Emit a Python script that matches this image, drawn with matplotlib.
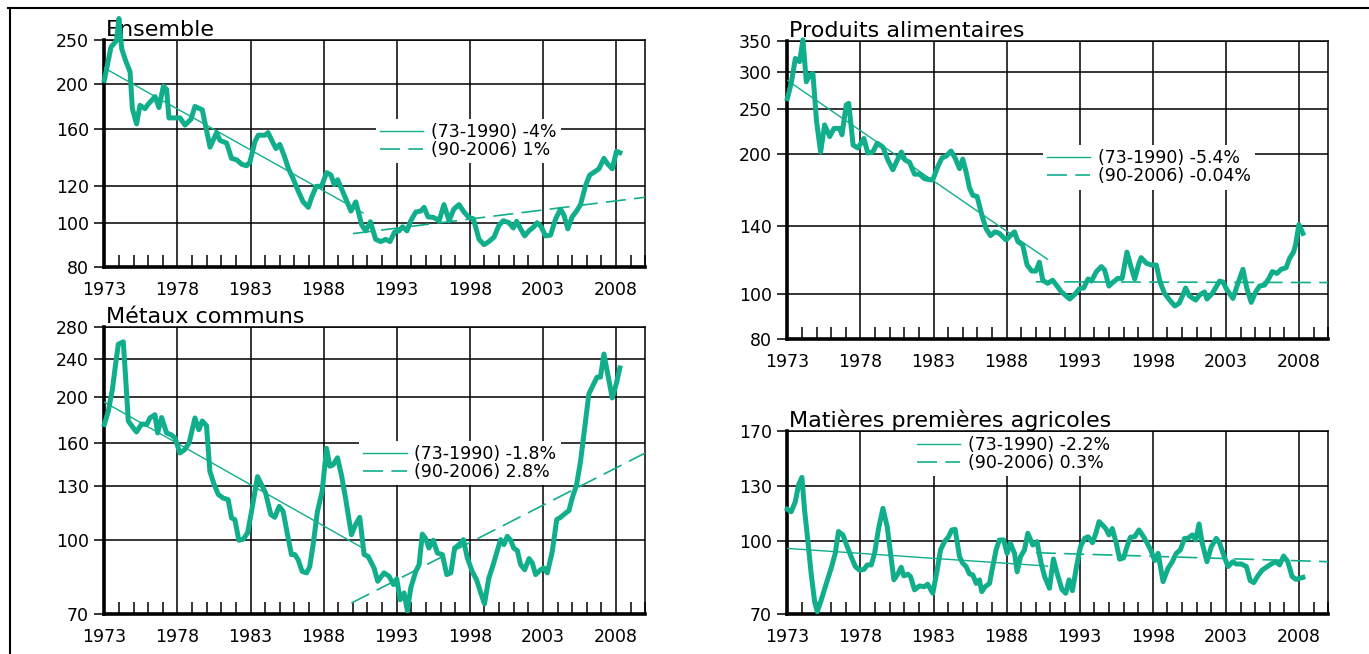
import matplotlib
matplotlib.use('Agg')
import matplotlib.pyplot as plt
from matplotlib.ticker import FixedLocator, FixedFormatter, NullLocator
from matplotlib.lines import Line2D

plt.rcParams['font.family'] = ['DejaVu Sans']

# ---------------- data ----------------
ens_years = [1973.0, 1973.46, 1973.84, 1974.0, 1974.19, 1974.46, 1974.76, 1974.92, 1975.21, 1975.44,
             1975.78, 1976.0, 1976.47, 1976.74, 1977.04, 1977.26, 1977.42, 1978.18, 1978.52, 1978.93,
             1979.2, 1979.7, 1980.23, 1980.68, 1980.91, 1981.37, 1981.7, 1982.05, 1982.4, 1982.73,
             1982.96, 1983.3, 1983.53, 1984.0, 1984.2, 1984.5, 1984.74, 1985.0, 1985.3, 1985.6,
             1985.9, 1986.27, 1986.6, 1986.95, 1987.2, 1987.5, 1987.86, 1988.2, 1988.5, 1988.73,
             1988.96, 1989.35, 1989.87, 1990.2, 1990.6, 1990.87, 1991.2, 1991.56, 1991.9, 1992.25,
             1992.54, 1992.86, 1993.16, 1993.4, 1993.7, 1993.96, 1994.3, 1994.64, 1994.87, 1995.14,
             1995.55, 1995.9, 1996.23, 1996.58, 1996.9, 1997.26, 1997.6, 1997.94, 1998.24, 1998.63,
             1998.97, 1999.3, 1999.65, 1999.99, 2000.29, 2000.68, 2000.97, 2001.2, 2001.47, 2001.75,
             2002.04, 2002.38, 2002.6, 2002.88, 2003.18, 2003.52, 2003.87, 2004.2, 2004.43, 2004.7,
             2005.0, 2005.3, 2005.57, 2005.92, 2006.2, 2006.53, 2006.83, 2007.17, 2007.44, 2007.74,
             2008.03, 2008.26]
ens_values = [204, 241, 249, 278, 239, 225, 213, 177, 164, 180,
              177, 181, 188, 178, 198, 195, 169, 169, 163, 168,
              179, 176, 146, 157, 151, 149, 138, 137, 134, 133,
              135.5, 150, 155, 155, 157, 150, 145, 148, 140, 131,
              125, 117, 111, 108, 114, 120, 120, 128.5, 127, 121,
              124, 116, 106, 111, 99, 96, 100.5, 92, 91, 92,
              91, 95.5, 96, 98, 96, 101, 105.5, 106, 108, 103,
              102.6, 101, 109.5, 101, 107, 109.5, 105.5, 102.6, 102, 92,
              89.6, 91, 93, 98.7, 101, 100, 97.4, 100.7, 97, 93.6,
              96, 98, 100, 98, 93.6, 94, 102, 107, 104, 97,
              103, 106, 109.5, 120.6, 127, 129, 131, 138, 134, 131,
              143, 142]

food_years = [1973.0, 1973.27, 1973.55, 1973.84, 1974.07, 1974.3, 1974.53, 1974.75, 1975.0, 1975.28,
              1975.55, 1975.9, 1976.19, 1976.58, 1976.74, 1977.03, 1977.2, 1977.5, 1977.83, 1978.24,
              1978.5, 1978.85, 1979.15, 1979.54, 1979.88, 1980.22, 1980.52, 1980.8, 1981.06, 1981.36,
              1981.7, 1982.04, 1982.38, 1982.73, 1982.95, 1983.3, 1983.57, 1983.87, 1984.2, 1984.48,
              1984.78, 1985.0, 1985.23, 1985.46, 1985.69, 1985.98, 1986.3, 1986.6, 1986.9, 1987.2,
              1987.5, 1987.97, 1988.2, 1988.54, 1988.77, 1989.1, 1989.4, 1989.72, 1990.0, 1990.24,
              1990.47, 1990.8, 1991.15, 1991.4, 1991.75, 1992.32, 1992.66, 1993.0, 1993.27, 1993.57,
              1993.8, 1994.14, 1994.48, 1994.7, 1995.0, 1995.28, 1995.6, 1995.9, 1996.23, 1996.5,
              1996.76, 1997.05, 1997.2, 1997.56, 1997.9, 1998.24, 1998.5, 1998.8, 1999.15, 1999.5,
              1999.8, 2000.06, 2000.24, 2000.5, 2000.93, 2001.2, 2001.54, 2001.7, 2002.07, 2002.34,
              2002.57, 2002.8, 2003.07, 2003.48, 2003.82, 2004.16, 2004.43, 2004.73, 2005.03, 2005.3,
              2005.64, 2005.94, 2006.17, 2006.48, 2006.78, 2007.12, 2007.35, 2007.62, 2007.76, 2007.99,
              2008.26]
food_values = [263, 284, 321, 316, 352, 286, 295, 298, 235, 202,
               231, 218, 227, 227, 220, 255, 257, 209, 206, 216,
               201, 202, 211, 207, 194, 185, 194, 202, 194, 192,
               181, 181, 177, 176, 176, 188, 196, 198, 203, 196,
               186, 195, 183, 169, 163, 162, 148, 138, 133.5, 136,
               135, 130.6, 133, 136, 129.6, 127.4, 115.4, 112, 112, 117,
               107, 105.4, 107, 104.5, 101, 97.5, 99.8, 102.8, 103, 107.7,
               106.6, 111.7, 114.5, 112.6, 104, 106, 108, 108, 123, 114.5,
               107.7, 116.4, 119.7, 116.4, 115.4, 115.4, 106, 100.3, 97, 94.2,
               95.5, 99.5, 103, 99, 97, 99.5, 101, 97.5, 100.3, 103.7,
               106.6, 106, 102, 97.8, 105.4, 113, 102.8, 95.9, 101, 104,
               104.5, 108, 111.7, 110.7, 113, 113.9, 119.3, 123, 127.4, 141,
               135]

met_years = [1973.0, 1973.27, 1973.55, 1973.77, 1973.96, 1974.3, 1974.46, 1974.64, 1974.9, 1975.2,
             1975.55, 1975.9, 1976.12, 1976.46, 1976.65, 1976.92, 1977.26, 1977.56, 1977.83, 1978.17,
             1978.5, 1978.8, 1979.2, 1979.47, 1979.7, 1979.99, 1980.22, 1980.52, 1980.8, 1981.13,
             1981.47, 1981.7, 1981.93, 1982.2, 1982.5, 1982.8, 1983.07, 1983.48, 1983.75, 1984.03,
             1984.39, 1984.66, 1984.96, 1985.23, 1985.53, 1985.8, 1986.03, 1986.26, 1986.53, 1986.83,
             1987.05, 1987.28, 1987.58, 1987.9, 1988.2, 1988.42, 1988.65, 1988.95, 1989.22, 1989.5,
             1989.9, 1990.18, 1990.47, 1990.77, 1991.04, 1991.27, 1991.45, 1991.7, 1992.13, 1992.48,
             1992.78, 1993.0, 1993.23, 1993.5, 1993.73, 1993.96, 1994.3, 1994.53, 1994.75, 1994.98,
             1995.2, 1995.5, 1995.78, 1996.12, 1996.42, 1996.7, 1996.96, 1997.26, 1997.56, 1997.82,
             1998.16, 1998.46, 1998.73, 1999.0, 1999.3, 1999.6, 1999.87, 2000.1, 2000.33, 2000.56,
             2000.79, 2001.0, 2001.25, 2001.47, 2001.75, 2002.05, 2002.27, 2002.5, 2002.84, 2003.07,
             2003.3, 2003.64, 2003.94, 2004.2, 2004.56, 2004.78, 2005.0, 2005.3, 2005.57, 2005.85,
             2006.14, 2006.44, 2006.7, 2006.93, 2007.17, 2007.44, 2007.74, 2008.03, 2008.26]
met_values = [175, 186.5, 207, 234, 258, 261, 219, 178, 173.5, 168.8,
              175.4, 175, 180.6, 183.5, 168, 181, 168, 166.6, 164, 152.5,
              155, 160, 180.6, 170.6, 178, 174, 139.5, 130.8, 124.7, 122.6,
              121.7, 111.4, 110.5, 100, 100.5, 103.6, 115, 136, 130.8, 125.7,
              113.2, 111.7, 117.8, 115, 102.7, 93.3, 93.3, 91, 86, 85.4,
              88, 97.9, 115, 126.7, 156, 143, 144, 149, 137, 122.6,
              102.7, 107.8, 111.7, 93.3, 92.5, 89.6, 87.4, 82, 85.4, 84,
              80.7, 83, 75, 77.5, 71.1, 79.4, 86, 88.9, 103, 100.8,
              96.3, 100, 94, 93.3, 84.7, 85.4, 96.3, 97.9, 100.3, 92,
              86, 82.6, 77.8, 73.5, 83.3, 88.9, 94.8, 100.3, 97.9, 101.9,
              100, 96.3, 95.1, 88.9, 86.7, 91.5, 89.6, 84.7, 86.7, 87.4,
              85.4, 94.8, 110.5, 111.7, 114.1, 115.4, 122.6, 130.8, 146.4, 172,
              202.8, 212, 220, 220, 246, 222.7, 199, 214, 230]

agr_years = [1973.0, 1973.27, 1973.55, 1973.77, 1974.0, 1974.18, 1974.4, 1974.64, 1974.87, 1975.05,
             1975.32, 1975.67, 1976.0, 1976.28, 1976.5, 1976.8, 1977.1, 1977.37, 1977.65, 1977.94,
             1978.24, 1978.47, 1978.74, 1978.97, 1979.24, 1979.54, 1979.83, 1980.06, 1980.29, 1980.56,
             1980.79, 1980.97, 1981.25, 1981.43, 1981.7, 1982.04, 1982.38, 1982.6, 1982.95, 1983.25,
             1983.48, 1983.75, 1984.03, 1984.25, 1984.48, 1984.78, 1985.0, 1985.23, 1985.46, 1985.69,
             1985.92, 1986.14, 1986.3, 1986.53, 1986.83, 1987.05, 1987.28, 1987.5, 1987.8, 1988.03,
             1988.26, 1988.54, 1988.72, 1988.95, 1989.22, 1989.45, 1989.79, 1990.08, 1990.36, 1990.6,
             1990.93, 1991.2, 1991.47, 1991.78, 1992.04, 1992.27, 1992.5, 1992.78, 1993.05, 1993.34,
             1993.57, 1993.87, 1994.1, 1994.32, 1994.55, 1994.78, 1995.0, 1995.23, 1995.5, 1995.73,
             1996.0, 1996.23, 1996.46, 1996.76, 1997.05, 1997.33, 1997.6, 1997.9, 1998.13, 1998.36,
             1998.7, 1999.04, 1999.33, 1999.6, 1999.88, 2000.17, 2000.4, 2000.7, 2000.93, 2001.16,
             2001.38, 2001.7, 2002.0, 2002.34, 2002.57, 2002.84, 2003.14, 2003.48, 2003.7, 2004.05,
             2004.4, 2004.66, 2004.9, 2005.18, 2005.48, 2005.76, 2006.1, 2006.4, 2006.67, 2006.94,
             2007.23, 2007.53, 2007.8, 2008.26]
agr_values = [116.4, 115, 120.8, 130.9, 135.8, 116, 100.3, 84.7, 74.4, 70.9,
              75, 81.3, 87.5, 94, 104.5, 102.8, 97.1, 92.5, 88.2, 86.7,
              87, 88.9, 88.9, 94, 106, 116.9, 107, 94, 82.7, 85.1,
              87.9, 84.3, 85, 84, 78.8, 80.3, 80, 81, 77.5, 86.7,
              95.6, 99.5, 101.9, 105.3, 105.6, 92.5, 89.6, 88.2, 85.1, 84.7,
              81.3, 82.7, 78.1, 80, 81.3, 88.2, 95.6, 100.3, 100.3, 94,
              98.7, 94, 86, 92.5, 95.6, 103.6, 97.9, 99.5, 89.6, 84,
              79.4, 91.5, 85, 79, 77.5, 82.7, 78.5, 88.2, 97.1, 101.1,
              101.9, 99, 103.6, 109.6, 107.9, 106, 102.8, 106, 98.7, 91.4,
              92, 97.1, 101.6, 101.9, 105.3, 102.3, 99, 94.8, 90.8, 94,
              82, 87.5, 90.3, 94, 95.6, 101.1, 101.1, 102.8, 100.3, 108.4,
              98.7, 90.3, 97.1, 101.1, 98.7, 93.3, 88.2, 90.3, 89.3, 89.3,
              88.2, 82.4, 81.6, 84.3, 86.7, 87.9, 89.3, 90.3, 88.9, 92.8,
              90.3, 84, 82.9, 83.7]

# trend lines: (years, values)
ens_trend1 = ([1973.0, 1990.7], [217, 105])
ens_trend2 = ([1990.0, 2010.0], [94.7, 113.6])
food_trend1 = ([1973.0, 1990.8], [288, 118.7])
food_trend2 = ([1990.0, 2010.0], [106.2, 105.8])
met_trend1 = ([1973.0, 1990.6], [195, 96.6])
met_trend2 = ([1989.9, 2010.0], [73.8, 152.5])
agr_trend1 = ([1973.0, 1990.8], [96.3, 88.4])
agr_trend2 = ([1990.0, 2010.0], [94.3, 90.3])

titles = ["Ensemble", "Produits alimentaires", "Métaux communs", "Matières premières agricoles"]
legend_labels = [["(73-1990) -4%", "(90-2006) 1%"],
                 ["(73-1990) -5.4%", "(90-2006) -0.04%"],
                 ["(73-1990) -1.8%", "(90-2006) 2.8%"],
                 ["(73-1990) -2.2%", "(90-2006) 0.3%"]]
ens_yticks = [80, 100, 120, 160, 200, 250]
food_yticks = [80, 100, 140, 200, 250, 300, 350]
met_yticks = [70, 100, 130, 160, 200, 240, 280]
agr_yticks = [70, 100, 130, 170]
xtick_years = [1973, 1978, 1983, 1988, 1993, 1998, 2003, 2008]

# ---------------- layout ----------------
W, H = 1369, 654
GREEN = '#10AE8B'
fig = plt.figure(figsize=(W / 100, H / 100), dpi=100)


def add_px_axes(left, right, top, bottom):
    return fig.add_axes([left / W, 1 - bottom / H, (right - left) / W, (bottom - top) / H])


def draw_panel(ax, years, values, t1, t2, yticks, title, labels, leg_anchor):
    ax.set_yscale('log')
    ax.set_xlim(1973, 2010)
    ax.set_ylim(yticks[0], yticks[-1])
    ax.yaxis.set_major_locator(FixedLocator(yticks))
    ax.yaxis.set_major_formatter(FixedFormatter([str(v) for v in yticks]))
    ax.yaxis.set_minor_locator(NullLocator())
    ax.xaxis.set_major_locator(FixedLocator(xtick_years))
    ax.xaxis.set_major_formatter(FixedFormatter([str(v) for v in xtick_years]))
    ax.xaxis.set_minor_locator(FixedLocator(list(range(1973, 2011))))
    ax.grid(True, which='major', color='black', linewidth=1.1)
    ax.set_axisbelow(True)
    ax.tick_params(axis='x', which='major', length=0, pad=10, labelsize=12.5)
    ax.tick_params(axis='x', which='minor', direction='in', length=9, width=1.1, color='black')
    ax.tick_params(axis='y', which='major', direction='out', length=7, width=1.1, pad=4, labelsize=12.5)
    for side in ['left', 'bottom']:
        ax.spines[side].set_linewidth(2.6)
    for side in ['top', 'right']:
        ax.spines[side].set_linewidth(1.1)
    ax.plot(t1[0], t1[1], color=GREEN, lw=1.0, zorder=3)
    ax.plot(t2[0], t2[1], color=GREEN, lw=1.2, dashes=(12, 5), zorder=3)
    ax.plot(years, values, color=GREEN, lw=3.6, zorder=4, clip_on=False, solid_joinstyle='round')
    ax.annotate(title, xy=(0, 1), xycoords='axes fraction', xytext=(2, 4),
                textcoords='offset pixels', ha='left', va='baseline', fontsize=16, zorder=2)
    handles = [Line2D([], [], color=GREEN, lw=1.0),
               Line2D([], [], color=GREEN, lw=1.2, dashes=(12, 5))]
    leg = ax.legend(handles, labels, loc='upper left', bbox_to_anchor=leg_anchor,
                    fontsize=12.5, frameon=True, facecolor='white', edgecolor='none',
                    framealpha=1, fancybox=False, borderpad=0.25, borderaxespad=0,
                    handlelength=2.48, handletextpad=0.45, labelspacing=0.0)
    leg.set_zorder(2.5)


ax1 = add_px_axes(104.3, 645.3, 39.7, 267.3)
ax2 = add_px_axes(787.3, 1328.3, 41, 339)
ax3 = add_px_axes(104.3, 645.3, 327.3, 614)
ax4 = add_px_axes(787.3, 1328.3, 431, 614.3)

draw_panel(ax1, ens_years, ens_values, ens_trend1, ens_trend2, ens_yticks, titles[0], legend_labels[0], (0.502, 0.653))
draw_panel(ax2, food_years, food_values, food_trend1, food_trend2, food_yticks, titles[1], legend_labels[1], (0.472, 0.651))
draw_panel(ax3, met_years, met_values, met_trend1, met_trend2, met_yticks, titles[2], legend_labels[2], (0.471, 0.6045))
draw_panel(ax4, agr_years, agr_values, agr_trend1, agr_trend2, agr_yticks, titles[3], legend_labels[3], (0.2324, 0.996))

# outer frame
fig.add_artist(Line2D([8 / W, 1], [1 - 8 / H, 1 - 8 / H], color='black', lw=1.5, transform=fig.transFigure))
fig.add_artist(Line2D([10 / W, 10 / W], [0, 1 - 8 / H], color='black', lw=1.5, transform=fig.transFigure))

fig.savefig('out.png', dpi=100)
